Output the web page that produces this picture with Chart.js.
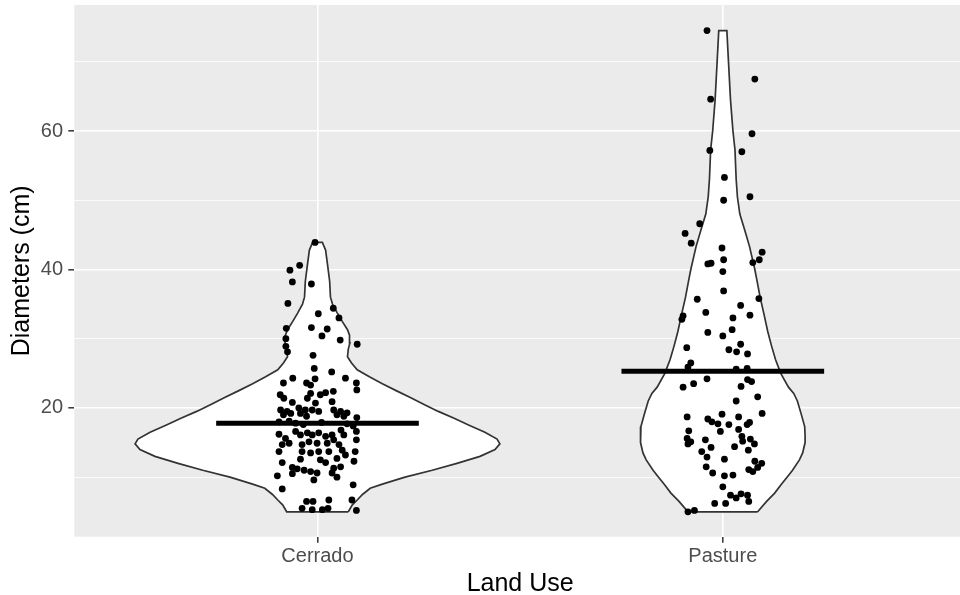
<!DOCTYPE html>
<html>
<head>
<meta charset="utf-8">
<script src="https://cdn.jsdelivr.net/npm/chart.js@4.4.1/dist/chart.umd.min.js"></script>
<style>
  html, body { margin: 0; padding: 0; background: #ffffff; overflow: hidden; }
  #wrap { width: 960px; height: 595px; overflow: hidden; }
</style>
</head>
<body>
<div id="wrap"><canvas id="c" width="970" height="595"></canvas></div>
<script>
// ---- data -------------------------------------------------------------
const categories = ['Cerrado', 'Pasture'];

// Tree diameters (cm) per land use, with the horizontal jitter of each dot
const cerradoDiam = [
  43.9, 40.6, 39.9, 38.2, 37.9, 35.1, 34.4, 33.6, 33.0, 31.5, 31.6, 31.4, 30.4, 30.0, 29.8, 29.2,
  28.9, 28.1, 27.6, 25.7, 25.2, 24.3, 24.3, 24.2, 23.6, 23.6, 23.3, 23.6, 22.6, 21.9, 22.1, 21.9,
  22.2, 22.4, 21.4, 20.8, 21.4, 20.7, 20.9, 19.7, 19.5, 20.0, 19.7, 19.7, 19.5, 19.7, 19.5, 19.3,
  19.0, 19.2, 19.2, 18.8, 19.0, 18.8, 18.6, 18.1, 17.7, 18.0, 17.8, 16.8, 16.6, 16.2, 15.6, 16.1,
  16.4, 16.1, 16.4, 15.9, 16.1, 16.1, 16.6, 14.7, 14.9, 14.7, 15.1, 14.9, 14.9, 15.4, 14.7, 15.4,
  13.7, 13.7, 13.5, 13.7, 13.7, 13.9, 13.7, 12.1, 12.6, 12.5, 12.1, 12.7, 13.2, 12.3, 11.4, 11.2,
  11.0, 10.8, 10.6, 11.3, 11.5, 10.2, 10.5, 9.6, 10.6, 10.0, 8.3, 8.9, 6.5, 6.5, 6.7, 5.5,
  5.3, 5.3, 5.5, 6.7, 5.2, 17.9, 17.4, 17.6
];
const cerradoJitter = [
  -0.006, -0.044, -0.068, -0.062, -0.015, -0.073, 0.039, 0.002, 0.053, -0.077, -0.015, 0.024, 0.011, -0.078, 0.056, 0.098,
  -0.078, -0.074, -0.011, -0.008, 0.035, 0.069, -0.061, -0.006, -0.084, -0.027, -0.017, 0.096, 0.097, -0.092, -0.017, 0.007,
  0.020, 0.039, -0.083, -0.062, -0.025, -0.005, 0.036, -0.091, -0.075, -0.046, -0.030, -0.013, 0.003, 0.040, 0.057, 0.073,
  -0.084, -0.066, -0.042, -0.027, 0.048, 0.065, 0.097, -0.070, 0.073, -0.095, -0.054, 0.058, -0.054, -0.095, -0.079, -0.042,
  -0.025, -0.013, 0.003, 0.020, 0.036, 0.065, 0.096, -0.087, -0.070, -0.038, -0.021, -0.001, 0.024, 0.040, 0.053, 0.096,
  -0.095, -0.038, -0.017, 0.003, 0.028, 0.061, 0.093, -0.087, -0.042, 0.007, 0.020, 0.048, 0.069, 0.090, -0.062, -0.050,
  -0.033, -0.017, -0.001, 0.040, 0.057, -0.099, -0.062, -0.009, 0.036, 0.048, -0.087, 0.088, -0.027, -0.011, 0.028, -0.038,
  -0.013, 0.012, 0.026, 0.085, 0.096, 0.010, 0.088, -0.035
];

const pastureDiam = [
  74.5, 67.5, 64.6, 59.6, 57.2, 57.0, 53.3, 50.5, 50.0, 46.6, 45.2, 43.8, 43.1, 42.5, 41.4, 41.4,
  41.0, 40.8, 40.9, 39.7, 36.9, 35.7, 35.8, 34.8, 33.8, 33.4, 33.3, 32.8, 33.0, 31.3, 30.9, 30.4,
  29.2, 28.7, 28.4, 28.1, 27.8, 26.5, 25.9, 25.6, 25.7, 24.1, 23.8, 24.2, 23.5, 23.0, 23.1, 21.6,
  21.0, 19.2, 18.7, 19.1, 18.4, 18.0, 17.7, 17.6, 18.7, 17.9, 17.6, 16.6, 16.9, 16.7, 15.6, 15.1,
  14.8, 15.4, 14.3, 13.7, 15.9, 15.2, 15.5, 14.8, 14.4, 13.9, 12.9, 12.6, 12.3, 12.0, 11.1, 10.8,
  11.4, 11.5, 10.6, 10.2, 10.3, 8.6, 7.4, 7.0, 7.6, 7.4, 6.5, 6.2, 6.2, 5.0, 5.2
];
const pastureJitter = [
  -0.039, 0.079, -0.030, 0.072, -0.032, 0.047, 0.004, 0.067, 0.002, -0.057, -0.093, -0.078, -0.002, 0.097, 0.002, 0.090,
  0.074, -0.037, -0.029, 0.000, 0.002, -0.063, 0.089, 0.044, -0.042, 0.067, -0.098, -0.101, 0.025, 0.023, -0.037, 0.000,
  0.044, -0.089, 0.015, 0.034, 0.061, -0.079, -0.086, 0.033, 0.060, 0.061, 0.071, -0.039, -0.072, -0.098, 0.045, 0.086,
  0.033, 0.097, -0.088, -0.002, -0.037, -0.027, -0.012, 0.015, 0.039, 0.066, 0.060, -0.006, 0.039, -0.084, -0.088, -0.079,
  -0.086, -0.043, -0.029, -0.052, 0.047, 0.049, 0.068, 0.078, 0.029, 0.063, -0.039, 0.004, 0.079, 0.096, 0.064, 0.074,
  0.086, -0.041, -0.025, 0.004, 0.025, 0.000, 0.019, 0.033, 0.045, 0.061, 0.064, -0.020, 0.007, -0.086, -0.070
];

// Group means (cm)
const groupMeans = [17.8, 25.3];

// Violin outlines: diameter levels and half-width of the density at each level
const cerradoViolinY = [5.0, 6.0, 6.7, 7.5, 8.4, 9.0, 10.0, 11.0, 12.0, 13.0, 14.0, 14.8, 15.5, 16.5, 17.5, 18.5,
  19.5, 20.5, 21.5, 22.5, 23.5, 24.5, 25.5, 26.5, 27.4, 28.5, 29.4, 30.5, 31.3, 32.5, 33.7, 35.0, 36.0, 38.3, 40.6, 42.8, 43.9];
const cerradoViolinW = [0.076, 0.086, 0.098, 0.111, 0.130, 0.160, 0.216, 0.283, 0.344, 0.401, 0.438, 0.450, 0.443, 0.413, 0.374, 0.337,
  0.298, 0.263, 0.229, 0.194, 0.160, 0.128, 0.098, 0.084, 0.074, 0.076, 0.080, 0.079, 0.074, 0.061, 0.049, 0.037, 0.032, 0.030, 0.025, 0.020, 0.012];
const pastureViolinY = [5.0, 6.5, 7.7, 9.0, 10.1, 11.0, 12.5, 13.5, 15.0, 16.0, 17.3, 19.0, 21.0, 22.1, 23.0, 25.0,
  27.0, 29.0, 31.0, 33.7, 36.0, 38.5, 40.0, 43.3, 45.7, 48.0, 50.5, 53.0, 57.3, 60.0, 64.5, 70.0, 74.5];
const pastureViolinW = [0.086, 0.108, 0.128, 0.145, 0.160, 0.172, 0.189, 0.197, 0.203, 0.203, 0.202, 0.194, 0.184, 0.175, 0.162, 0.143,
  0.130, 0.120, 0.111, 0.101, 0.092, 0.084, 0.079, 0.066, 0.054, 0.042, 0.036, 0.033, 0.030, 0.025, 0.019, 0.014, 0.010];

// Axis ticks
const yMajorTicks = [20, 40, 60];
const yMinorTicks = [10, 30, 50, 70];
const yLimits = [1.4, 78.2];

// ---- helpers ------------------------------------------------------------
const FONT = '"Liberation Sans", Arial, Helvetica, sans-serif';
const MEAN_HALF = 0.25;

function jittered(values, offsets, pos) {
  return values.map((v, i) => ({ x: pos + offsets[i], y: v }));
}
function violinOutline(ys, ws, pos) {
  const right = ys.map((y, i) => ({ x: pos + ws[i], y }));
  const left = ys.map((y, i) => ({ x: pos - ws[i], y })).reverse();
  return right.concat(left, [right[0]]);
}
function meanBar(m, pos) {
  return [{ x: pos - MEAN_HALF, y: m }, { x: pos + MEAN_HALF, y: m }];
}
const isMajor = v => yMajorTicks.includes(v);

// keep the axes from reserving room for overhanging labels
function noOverhang(s) {
  s.paddingTop = 0; s.paddingBottom = 0; s.paddingLeft = 0; s.paddingRight = 0;
}

const panelBackground = {
  id: 'panelBackground',
  beforeDraw(chart) {
    const { ctx, chartArea: a } = chart;
    ctx.save();
    ctx.fillStyle = '#EBEBEB';
    ctx.fillRect(a.left, a.top, a.right - a.left, a.bottom - a.top);
    ctx.restore();
  }
};

const violinStyle = {
  type: 'line', borderColor: '#333333', borderWidth: 1.7, backgroundColor: '#FFFFFF',
  fill: 'shape', pointRadius: 0, tension: 0, order: 3
};
const dotStyle = {
  type: 'scatter', pointRadius: 3.4, pointBackgroundColor: '#000000', backgroundColor: '#000000',
  borderWidth: 0, pointBorderWidth: 0, order: 2
};
const meanStyle = {
  type: 'line', borderColor: '#000000', borderWidth: 5, pointRadius: 0, fill: false,
  borderCapStyle: 'butt', order: 1
};

new Chart(document.getElementById('c'), {
  type: 'scatter',
  data: {
    datasets: [
      Object.assign({ label: 'Cerrado density', data: violinOutline(cerradoViolinY, cerradoViolinW, 1) }, violinStyle),
      Object.assign({ label: 'Pasture density', data: violinOutline(pastureViolinY, pastureViolinW, 2) }, violinStyle),
      Object.assign({ label: 'Cerrado', data: jittered(cerradoDiam, cerradoJitter, 1) }, dotStyle),
      Object.assign({ label: 'Pasture', data: jittered(pastureDiam, pastureJitter, 2) }, dotStyle),
      Object.assign({ label: 'Cerrado mean', data: meanBar(groupMeans[0], 1) }, meanStyle),
      Object.assign({ label: 'Pasture mean', data: meanBar(groupMeans[1], 2) }, meanStyle)
    ]
  },
  options: {
    responsive: false,
    devicePixelRatio: 1,
    animation: false,
    events: [],
    layout: { padding: { top: 5, right: 1, left: 0, bottom: 0 } },
    plugins: { legend: { display: false }, tooltip: { enabled: false } },
    scales: {
      x: {
        type: 'linear', min: 0.4, max: 2.6,
        afterBuildTicks: s => { s.ticks = categories.map((c, i) => ({ value: i + 1 })); },
        afterFit: s => { s.height = 58.3; noOverhang(s); },
        ticks: {
          callback: v => categories[v - 1],
          font: { family: FONT, size: 20 }, color: '#4D4D4D', padding: 1.5,
          maxRotation: 0, autoSkip: false
        },
        grid: { color: '#FFFFFF', lineWidth: 1.6, tickLength: 6, tickColor: '#333333', tickWidth: 1.5 },
        border: { display: false },
        title: {
          display: true, text: 'Land Use', color: '#000000',
          font: { family: FONT, size: 25, lineHeight: 0.9 }, padding: 0
        }
      },
      y: {
        type: 'linear', min: yLimits[0], max: yLimits[1],
        afterBuildTicks: s => {
          s.ticks = yMinorTicks.concat(yMajorTicks).sort((a, b) => a - b).map(v => ({ value: v }));
        },
        afterFit: s => { s.width = 74.3; noOverhang(s); },
        ticks: {
          callback: v => (isMajor(v) ? String(v) : ''),
          font: { family: FONT, size: 20 }, color: '#4D4D4D', padding: 5.3
        },
        grid: {
          color: '#FFFFFF',
          lineWidth: c => (c.tick && isMajor(c.tick.value) ? 1.6 : 0.8),
          tickLength: 6,
          tickColor: c => (c.tick && isMajor(c.tick.value) ? '#333333' : 'rgba(0,0,0,0)'),
          tickWidth: 1.5
        },
        border: { display: false },
        title: {
          display: true, text: 'Diameters (cm)', color: '#000000',
          font: { family: FONT, size: 25, lineHeight: 1.2 }, padding: { top: 7, bottom: 0 }
        }
      }
    }
  },
  plugins: [panelBackground]
});
</script>
</body>
</html>
